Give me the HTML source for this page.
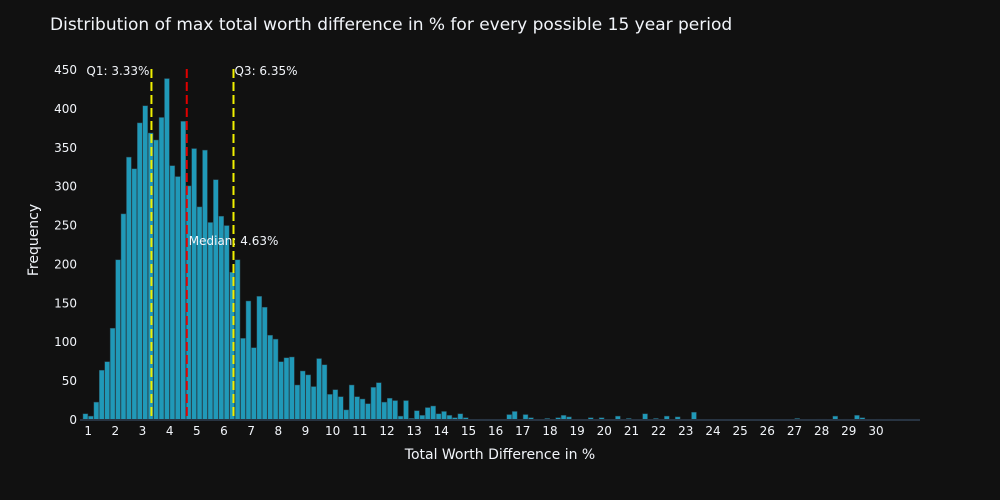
<!DOCTYPE html>
<html><head><meta charset="utf-8"><style>
body{margin:0;background:#111111;}
svg{display:block;font-family:"DejaVu Sans","Liberation Sans",sans-serif;}
</style></head><body>
<svg id="chart" width="1000" height="500">
<rect width="1000" height="500" fill="#111111"/>
<text x="50" y="30" fill="#f2f5fa" font-size="17">Distribution of max total worth difference in % for every possible 15 year period</text>
<text x="500" y="459" fill="#f2f5fa" font-size="14" text-anchor="middle">Total Worth Difference in %</text>
<text transform="translate(38,240) rotate(-90)" fill="#f2f5fa" font-size="14" text-anchor="middle">Frequency</text>
<g id="bars"></g><g id="axes"></g><g id="lines"></g>
</svg>
<script>
const binStart = 0.8;
const binWidth = 0.2;
const counts = [8,5,23,64,75,118,206,265,338,323,382,404,369,360,389,439,327,313,384,301,349,274,347,254,309,262,250,190,206,105,153,93,159,145,109,104,75,80,81,45,63,58,43,79,71,33,39,30,13,45,30,27,21,42,48,23,28,25,5,25,2,12,6,16,18,8,11,6,3,8,3,0,0,1,1,0,0,1,7,11,0,7,3,1,0,2,0,3,6,4,0,1,0,3,1,3,0,0,5,0,2,0,0,8,0,2,1,5,0,4,0,0,10,0,0,0,0,0,0,0,0,0,0,0,0,0,0,0,0,0,0,2,0,0,0,1,1,0,5,0,1,0,6,3,0,0,1,0,1,0,1,1,1,1];
const xTicks = [1,2,3,4,5,6,7,8,9,10,11,12,13,14,15,16,17,18,19,20,21,22,23,24,25,26,27,28,29,30];
const yTicks = [0,50,100,150,200,250,300,350,400,450];
const markerNames = ['q1-line','median-line','q3-line'];
const markerValues = [3.33,4.63,6.35];
const markerLabels = ['Q1: 3.33%','Median: 4.63%','Q3: 6.35%'];
const NS='http://www.w3.org/2000/svg';
const X0=80,X1=920,XMIN=0.7,XMAX=31.62,Y0=420,YPX=350/450;
function xs(v){return X0+(v-XMIN)*(X1-X0)/(XMAX-XMIN);}
function ys(v){return Y0-v*YPX;}
function mk(tag,attrs,parent){const e=document.createElementNS(NS,tag);for(const k in attrs)e.setAttribute(k,attrs[k]);parent.appendChild(e);return e;}
const bars=document.getElementById('bars'),axes=document.getElementById('axes'),lines=document.getElementById('lines');
counts.forEach((c,i)=>{
  const a=xs(binStart+i*binWidth),b=xs(binStart+(i+1)*binWidth);
  const r=mk('rect',{x:a+0.25,y:ys(c),width:b-a-0.5,height:Y0-ys(c),fill:'#2099b8',stroke:'#2a4550','stroke-width':0.5},bars);
  
  
});
const base=mk('line',{x1:X0,x2:X1,y1:Y0,y2:Y0,stroke:'#283442','stroke-width':2},axes);


xTicks.forEach(t=>{
  const e=mk('text',{x:xs(t),y:Y0+15,fill:'#f2f5fa','font-size':12,'text-anchor':'middle'},axes);
  e.textContent=t;
  
  
});
yTicks.forEach(t=>{
  const e=mk('text',{x:77,y:ys(t)+4,fill:'#f2f5fa','font-size':12,'text-anchor':'end'},axes);
  e.textContent=t;
  
  
});
markerValues.forEach((v,i)=>{
  const col=i===1?'#e00000':'#f0f000';
  const l=mk('line',{x1:xs(v),x2:xs(v),y1:69,y2:Y0,stroke:col,'stroke-width':2,'stroke-dasharray':'9,4'},lines);
  
  
  let attrs;
  if(i===0)attrs={x:xs(v)-2,y:75,'text-anchor':'end'};
  else if(i===1)attrs={x:xs(v)+2,y:245,'text-anchor':'start'};
  else attrs={x:xs(v)+1,y:75,'text-anchor':'start'};
  attrs.fill='#f2f5fa';attrs['font-size']=12;
  const t=mk('text',attrs,lines);
  t.textContent=markerLabels[i];
  
  
});
</script>
</body></html>
